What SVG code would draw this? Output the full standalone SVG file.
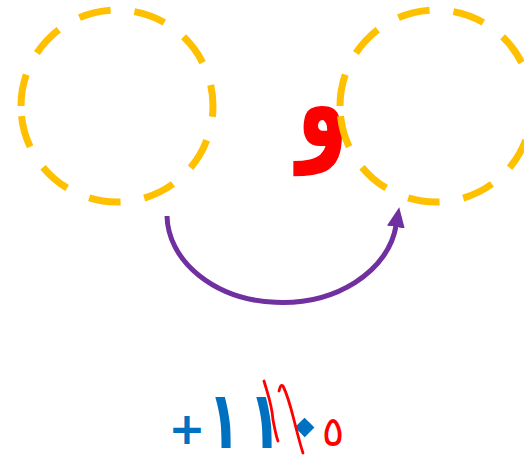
<svg xmlns="http://www.w3.org/2000/svg" width="524" height="457" viewBox="0 0 524 457">
<style>
.ring{fill:none;stroke:#FFC000;stroke-width:7;stroke-dasharray:32 24}
.ar{font-family:"DejaVu Sans",sans-serif}
.b{font-weight:bold}
.blue{fill:#0070C0}
.red{fill:#FF0000}
.ink{fill:none;stroke:#FF0000;stroke-width:2.8;stroke-linecap:round;stroke-linejoin:round}
</style>
<defs>
<marker id="ah" markerUnits="userSpaceOnUse" viewBox="0 0 20 18" markerWidth="20" markerHeight="18" refX="1" refY="9" orient="auto">
<path d="M0,0 L20,9 L0,18 z" fill="#7030A0"/>
</marker>
</defs>
<g id="letter">
<text class="ar b red" transform="translate(322.5,0) scale(0.75,1.125)" x="0" y="130" font-size="110" text-anchor="middle">و</text>
</g>
<g id="circle-left">
<path class="ring" d="M21,106 A96,96 0 0 1 213,106 A96,96 0 0 1 21,106"/>
</g>
<g id="circle-right">
<path class="ring" d="M340,106 A96,96 0 0 1 532,106 A96,96 0 0 1 340,106"/>
</g>
<g id="connectors">
<path d="M167,216 A115,88 0 0 0 396,226" fill="none" stroke="#7030A0" stroke-width="5" marker-end="url(#ah)"/>
</g>
<g id="numbers">
<text class="ar b blue" x="187" y="444" font-size="44" text-anchor="middle">+</text>
<text class="ar b blue" transform="translate(224,0) scale(0.75,1.15)" x="0" y="390" font-size="70" text-anchor="middle">١</text>
<text class="ar b blue" transform="translate(265,0) scale(0.75,1.15)" x="0" y="390" font-size="70" text-anchor="middle">١</text>
<text class="ar b blue" transform="rotate(45 305 427)" x="305" y="450" font-size="80" text-anchor="middle">٠</text>
<text class="ar red" x="333" y="446" font-size="42" text-anchor="middle">٥</text>
<path class="ink" d="M264,381 C268,395 272,405 273,420 C275,430 276,436 278,441"/>
<path class="ink" d="M279,391 C280,387 281,384 283,386 C288,396 291,408 294,420 C297,432 300,444 303,453"/>
</g>
</svg>
